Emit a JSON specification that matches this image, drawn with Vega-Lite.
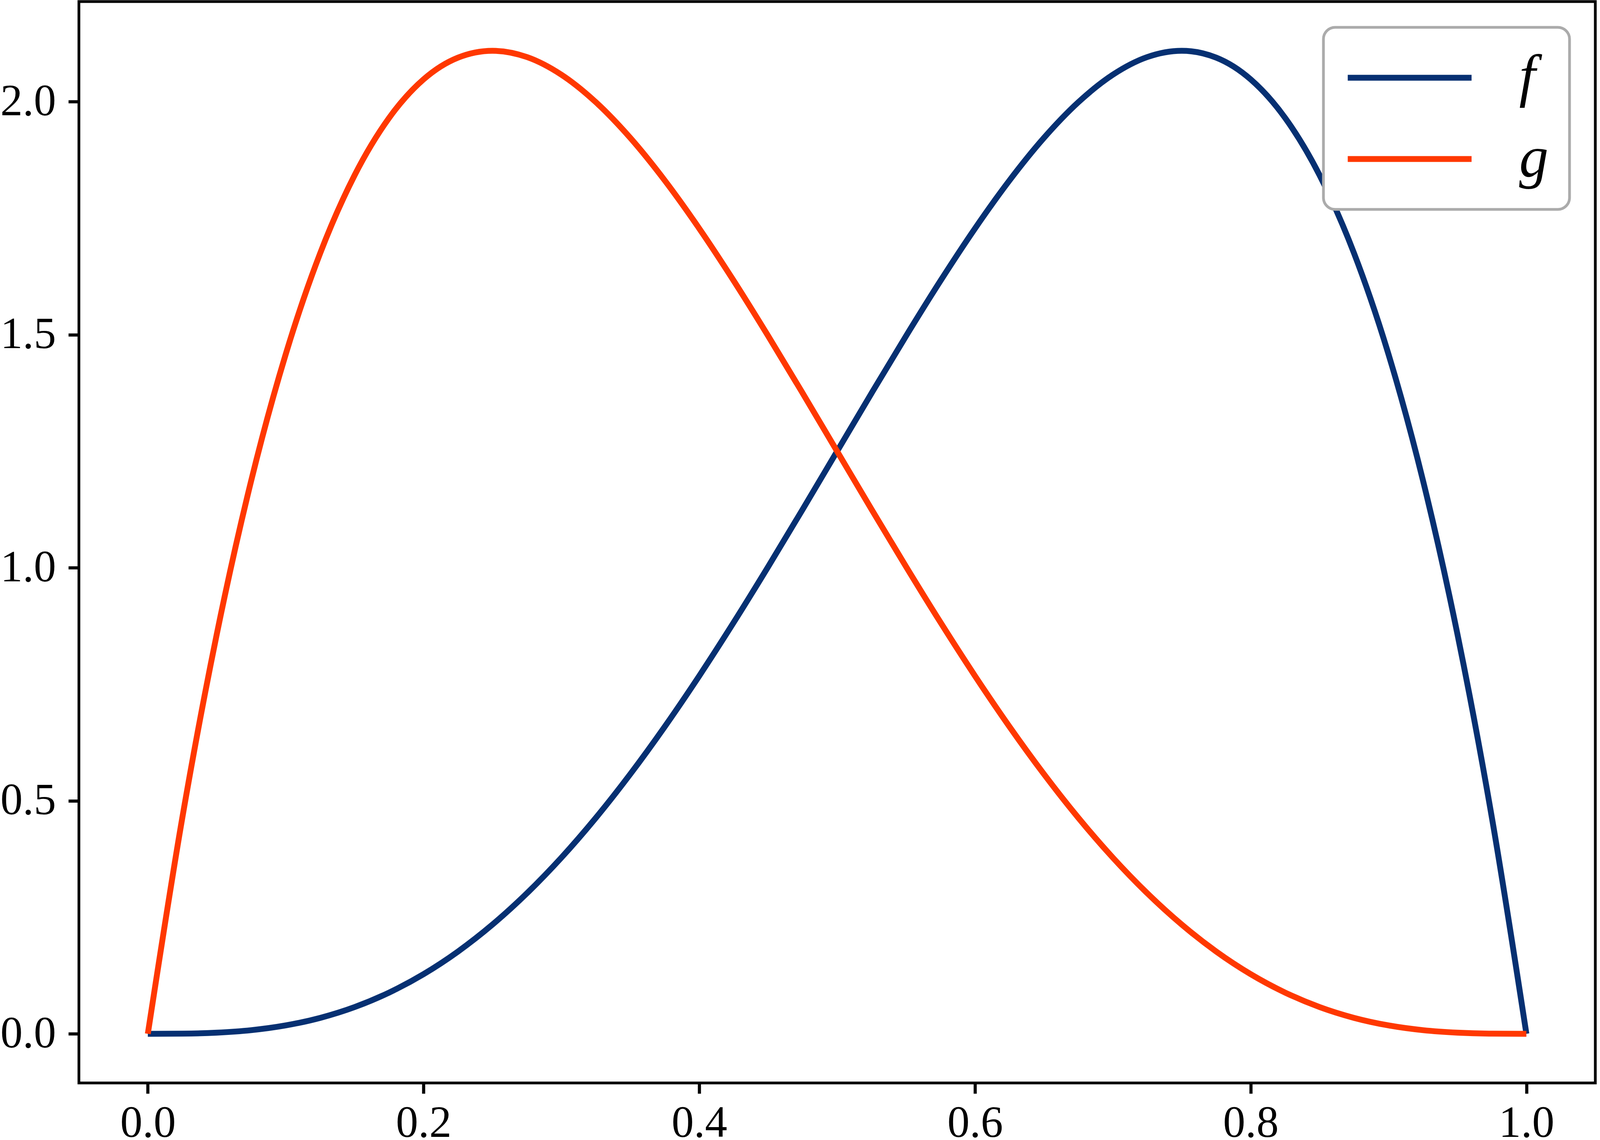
{
  "$schema": "https://vega.github.io/schema/vega-lite/v6.json",
  "autosize": {"type": "fit-x", "contains": "padding"},
  "width": "container",
  "height": 2768,
  "padding": {"left": 0, "top": 4, "right": 12, "bottom": 0},
  "background": "white",
  "data": {"values": [
    {"x": 0, "f": 0, "g": 0},
    {"x": 0.025, "f": 0.000305, "g": 0.46343},
    {"x": 0.05, "f": 0.002375, "g": 0.857375},
    {"x": 0.075, "f": 0.007805, "g": 1.18718},
    {"x": 0.1, "f": 0.018, "g": 1.458},
    {"x": 0.125, "f": 0.03418, "g": 1.674805},
    {"x": 0.15, "f": 0.057375, "g": 1.842375},
    {"x": 0.175, "f": 0.08843, "g": 1.965305},
    {"x": 0.2, "f": 0.128, "g": 2.048},
    {"x": 0.225, "f": 0.176555, "g": 2.09468},
    {"x": 0.25, "f": 0.234375, "g": 2.109375},
    {"x": 0.275, "f": 0.301555, "g": 2.09593},
    {"x": 0.3, "f": 0.378, "g": 2.058},
    {"x": 0.325, "f": 0.46343, "g": 1.999055},
    {"x": 0.35, "f": 0.557375, "g": 1.922375},
    {"x": 0.375, "f": 0.65918, "g": 1.831055},
    {"x": 0.4, "f": 0.768, "g": 1.728},
    {"x": 0.425, "f": 0.882805, "g": 1.61593},
    {"x": 0.45, "f": 1.002375, "g": 1.497375},
    {"x": 0.475, "f": 1.125305, "g": 1.37468},
    {"x": 0.5, "f": 1.25, "g": 1.25},
    {"x": 0.525, "f": 1.37468, "g": 1.125305},
    {"x": 0.55, "f": 1.497375, "g": 1.002375},
    {"x": 0.575, "f": 1.61593, "g": 0.882805},
    {"x": 0.6, "f": 1.728, "g": 0.768},
    {"x": 0.625, "f": 1.831055, "g": 0.65918},
    {"x": 0.65, "f": 1.922375, "g": 0.557375},
    {"x": 0.675, "f": 1.999055, "g": 0.46343},
    {"x": 0.7, "f": 2.058, "g": 0.378},
    {"x": 0.725, "f": 2.09593, "g": 0.301555},
    {"x": 0.75, "f": 2.109375, "g": 0.234375},
    {"x": 0.775, "f": 2.09468, "g": 0.176555},
    {"x": 0.8, "f": 2.048, "g": 0.128},
    {"x": 0.825, "f": 1.965305, "g": 0.08843},
    {"x": 0.85, "f": 1.842375, "g": 0.057375},
    {"x": 0.875, "f": 1.674805, "g": 0.03418},
    {"x": 0.9, "f": 1.458, "g": 0.018},
    {"x": 0.925, "f": 1.18718, "g": 0.007805},
    {"x": 0.95, "f": 0.857375, "g": 0.002375},
    {"x": 0.975, "f": 0.46343, "g": 0.000305},
    {"x": 1, "f": 0, "g": 0}
  ]},
  "transform": [{"fold": ["f", "g"], "as": ["s", "y"]}],
  "mark": {"type": "line", "strokeWidth": 15, "interpolate": "monotone", "clip": false},
  "encoding": {
    "x": {
      "field": "x", "type": "quantitative",
      "scale": {"domain": [-0.05, 1.05], "nice": false, "zero": false},
      "axis": {"values": [0, 0.2, 0.4, 0.6, 0.8, 1.0], "format": ".1f", "title": null, "labelPadding": 20}
    },
    "y": {
      "field": "y", "type": "quantitative",
      "scale": {"domain": [-0.1055, 2.215], "nice": false, "zero": false},
      "axis": {"values": [0, 0.5, 1.0, 1.5, 2.0], "format": ".1f", "title": null, "labelPadding": 32}
    },
    "color": {
      "field": "s", "type": "nominal",
      "scale": {"domain": ["f", "g"], "range": ["#063072", "#ff3800"]},
      "legend": {"title": null, "orient": "top-right", "offset": 66}
    }
  },
  "config": {
    "view": {"stroke": "black", "strokeWidth": 7},
    "axis": {
      "domain": false,
      "grid": false,
      "ticks": true,
      "tickColor": "black",
      "tickWidth": 8,
      "tickSize": 27,
      "labelFont": "Liberation Serif",
      "labelFontSize": 114,
      "labelColor": "black",
      "labelFlush": false,
      "labelOverlap": false
    },
    "legend": {
      "strokeColor": "#ababab",
      "strokeWidth": 7,
      "cornerRadius": 30,
      "fillColor": "white",
      "padding": 54,
      "symbolType": "M-3.37,0H12.63",
      "symbolSize": 1570,
      "symbolStrokeWidth": 15,
      "labelOffset": 297,
      "rowPadding": 58,
      "labelFont": "Liberation Serif",
      "labelFontStyle": "italic",
      "labelFontSize": 150,
      "labelColor": "black"
    }
  }
}
